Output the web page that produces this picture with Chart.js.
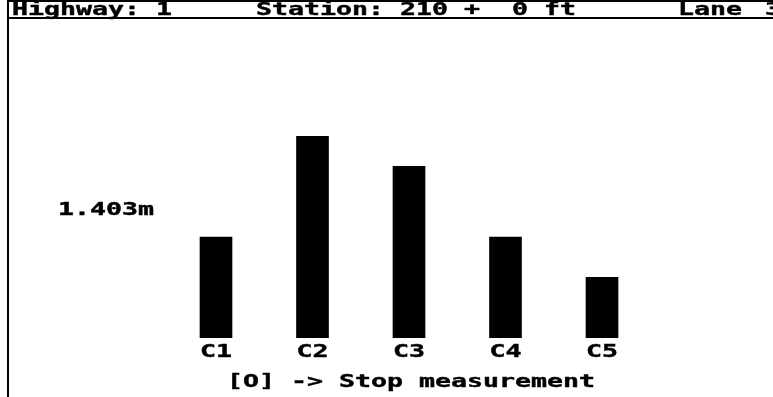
<!DOCTYPE html>
<html>
<head>
<meta charset="utf-8">
<script src="https://cdn.jsdelivr.net/npm/chart.js@4"></script>
<style>
  html, body { margin: 0; padding: 0; background: #fff; }
  #chart { display: block; }
</style>
</head>
<body>
<canvas id="chart" width="773" height="397"></canvas>
<script>
// bar channels and their readings (same units)
const channels = ['C1', 'C2', 'C3', 'C4', 'C5'];
const readings = [1.0, 2.0, 1.7, 1.0, 0.6];
const yMax = 2.0;

const highwayText = 'Highway: 1';
const stationText = 'Station: 210 +  0 ft';
const laneText = 'Lane';
const laneNumber = '3';
const depthText = '1.403m';
const footerText = '[O] -> Stop measurement';

const FONT = 'bold 17px "DejaVu Sans Mono", "Liberation Mono", monospace';
const CELL = 16; // width of one character on the old display

function wideText(ctx, text, x, y, align) {
    ctx.save();
    ctx.font = FONT;
    const adv = ctx.measureText('M').width;
    const sx = CELL / adv;
    ctx.translate(x, y);
    ctx.scale(sx, 1);
    ctx.textAlign = align || 'left';
    ctx.textBaseline = 'alphabetic';
    ctx.fillStyle = '#000';
    ctx.strokeStyle = '#000';
    ctx.lineWidth = 0.4;
    ctx.fillText(text, 0, 0);
    ctx.strokeText(text, 0, 0);
    ctx.restore();
}

const screenPlugin = {
    id: 'screen',
    beforeDraw(chart) {
        const ctx = chart.ctx;
        ctx.save();
        ctx.fillStyle = '#fff';
        ctx.fillRect(0, 0, chart.width, chart.height);

        ctx.strokeStyle = '#000';
        ctx.lineWidth = 2;
        ctx.beginPath();
        ctx.moveTo(8, 0);
        ctx.lineTo(8, chart.height);
        ctx.moveTo(8, 1);
        ctx.lineTo(chart.width, 1);
        ctx.moveTo(8, 18);
        ctx.lineTo(chart.width, 18);
        ctx.stroke();
        ctx.restore();
    },
    afterDraw(chart) {
        const ctx = chart.ctx;
        const x = chart.scales.x;

        wideText(ctx, highwayText, 12, 15);
        wideText(ctx, stationText, 256, 15);
        wideText(ctx, laneText, 678, 15);
        wideText(ctx, laneNumber, 765, 15);

        wideText(ctx, depthText, 58, 215);

        channels.forEach(function(c, i) {
            wideText(ctx, c, x.getPixelForValue(i), 357, 'center');
        });

        wideText(ctx, footerText, 411, 387, 'center');
    }
};

new Chart(document.getElementById('chart'), {
    type: 'bar',
    data: {
        labels: channels,
        datasets: [{
            data: readings,
            backgroundColor: '#000',
            borderWidth: 0,
            barThickness: 32
        }]
    },
    options: {
        responsive: false,
        animation: false,
        layout: {
            padding: { left: 167.75, right: 122.75, top: 136, bottom: 59 }
        },
        plugins: {
            legend: { display: false },
            tooltip: { enabled: false }
        },
        scales: {
            x: { display: false },
            y: { display: false, min: 0, max: yMax }
        }
    },
    plugins: [screenPlugin]
});
</script>
</body>
</html>
